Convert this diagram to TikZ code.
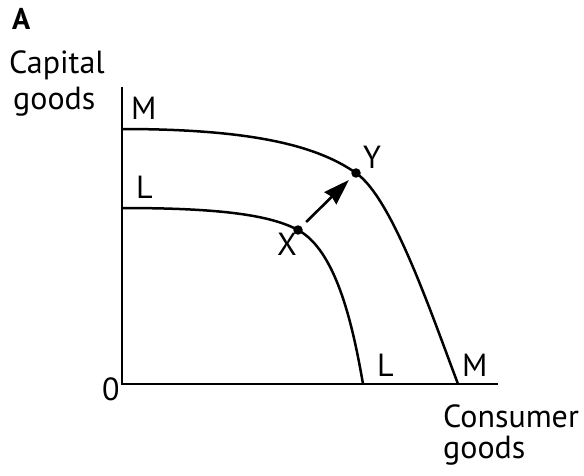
\documentclass[tikz,border=0pt]{standalone}
\usepackage{fontspec}
\setmainfont{PT Sans}
\usetikzlibrary{arrows.meta}
\begin{document}
\begin{tikzpicture}[x=1pt,y=-1pt,
  lbl/.style={anchor=base west,inner sep=0pt,font=\fontsize{32}{38}\selectfont},
  axisline/.style={line width=2.8pt,line cap=butt},
  curve/.style={line width=2.5pt},
  dotpt/.style={circle,fill=black,inner sep=0pt,minimum size=9.5pt}]
\useasboundingbox (0,0) rectangle (584,476);
% axes
\coordinate (top) at (122,87);
\coordinate (O) at (122,384);
\coordinate (right) at (498,384);
\draw[axisline] (top) -- (O) -- (right);
% points
\node[dotpt] (X) at (298,230) {};
\node[dotpt] (Y) at (356,173) {};
% curves
\draw[curve] (122,129) .. controls (260,129) and (320,148) .. (Y.center)
  .. controls (392,198) and (430,310) .. (458,384);
\draw[curve] (122,208) .. controls (220,208) and (270,215) .. (X.center)
  .. controls (335,250) and (352,320) .. (363,384);
% arrow
\draw[line width=2.6pt,-{Stealth[length=26pt,width=17pt,inset=2pt]},shorten <=6.5pt,shorten >=5pt] (X) -- (Y);
% labels
\node[anchor=base west,inner sep=0pt,font=\fontsize{30}{36}\selectfont\bfseries] (A) at (12,30) {A};
\node[lbl] (cap) at (9,74) {Capital};
\node[lbl] (goods1) at (13,110) {goods};
\node[lbl] (Mtop) at (131,120) {M};
\node[lbl] (Ltop) at (136,198) {L};
\node[lbl] (Ylab) at (363,168) {Y};
\node[lbl] (Xlab) at (277,255) {X};
\node[lbl] (zero) at (102,400) {0};
\node[lbl] (Lbot) at (377,376) {L};
\node[lbl] (Mbot) at (462,376) {M};
\node[lbl] (cons) at (443,427) {Consumer};
\node[lbl] (goods2) at (443,458) {goods};
\end{tikzpicture}
\end{document}
